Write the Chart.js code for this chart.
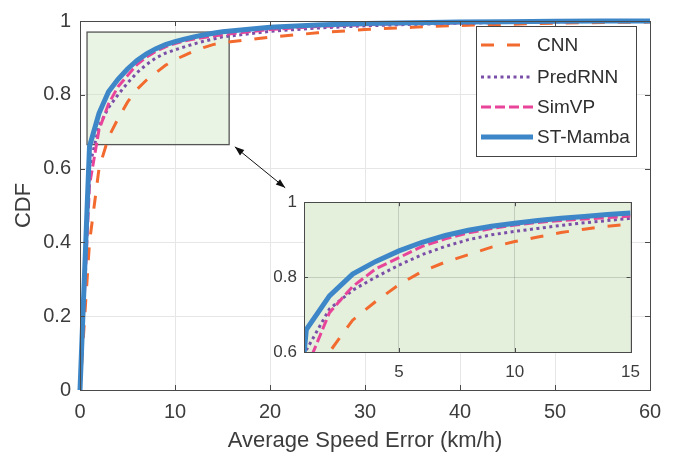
<!DOCTYPE html>
<html>
<head>
<meta charset="utf-8">
<script src="https://cdn.jsdelivr.net/npm/chart.js@4.4.0/dist/chart.umd.min.js"></script>
<style>
  html, body { margin: 0; padding: 0; background: #fff; }
  #wrap { position: relative; width: 681px; height: 457px; }
  #main { position: absolute; left: 0; top: 0; }
  #inset { position: absolute; left: 250px; top: 185px; }
</style>
</head>
<body>
<div id="wrap">
  <canvas id="main" width="681" height="457"></canvas>
  <canvas id="inset" width="400" height="210"></canvas>
</div>
<script>
// speed error (km/h) and CDF values
const speedErr = [0, 1, 2, 3, 4, 5, 6, 7, 8, 9, 10, 11, 12, 13, 14, 15, 20, 25, 30, 35, 40, 45, 50, 55, 60];
const cnn      = [0, 0.40, 0.60, 0.685, 0.735, 0.78, 0.815, 0.84, 0.86, 0.88, 0.895, 0.907, 0.919, 0.928, 0.936, 0.941, 0.956, 0.968, 0.977, 0.983, 0.988, 0.991, 0.994, 0.996, 0.997];
const predrnn  = [0, 0.605, 0.715, 0.765, 0.80, 0.832, 0.86, 0.882, 0.90, 0.913, 0.922, 0.93, 0.938, 0.945, 0.951, 0.957, 0.972, 0.981, 0.987, 0.991, 0.994, 0.996, 0.998, 0.999, 0.9995];
const simvp    = [0, 0.555, 0.705, 0.775, 0.822, 0.852, 0.882, 0.902, 0.918, 0.93, 0.939, 0.946, 0.951, 0.955, 0.959, 0.963, 0.977, 0.985, 0.99, 0.993, 0.995, 0.997, 0.998, 0.999, 1.0];
const stmamba  = [0, 0.66, 0.75, 0.808, 0.842, 0.87, 0.893, 0.911, 0.925, 0.936, 0.944, 0.951, 0.957, 0.962, 0.967, 0.971, 0.983, 0.989, 0.993, 0.995, 0.997, 0.998, 0.999, 1.0, 1.0];

const seriesNames = ['CNN', 'PredRNN', 'SimVP', 'ST-Mamba'];

const xTicks = [0, 10, 20, 30, 40, 50, 60];
const yTicks = [0, 0.2, 0.4, 0.6, 0.8, 1];
const yTickLabels = ['0', '0.2', '0.4', '0.6', '0.8', '1'];

const zoomX = [0.9, 15];
const zoomY = [0.6, 1];
const zoomXTicks = [5, 10, 15];
const zoomYTicks = [0.6, 0.8, 1];
const zoomYTickLabels = ['0.6', '0.8', '1'];

// highlighted region in main plot and arrow (data units)
const boxX = [0.74, 15.7];
const boxY = [0.665, 0.97];
const arrowFrom = [16.3, 0.659];
const arrowTo = [21.6, 0.548];

const FONT = '"Liberation Sans", Arial, Helvetica, sans-serif';
const TXT = '#3c3c3c';
const AXIS = '#4a4a4a';

const styles = [
  { color: '#F26A2E', width: 3, dash: [13, 13], order: 3 },
  { color: '#7B4FA8', width: 3, dash: [3, 3.5], order: 2 },
  { color: '#E8449A', width: 3, dash: [10, 4], order: 1 },
  { color: '#3D86C8', width: 5, dash: [], order: 0 }
];
const values = [cnn, predrnn, simvp, stmamba];

function makeDatasets(clip) {
  return values.map((arr, k) => ({
    label: seriesNames[k],
    data: speedErr.map((x, i) => ({ x: x, y: arr[i] })),
    borderColor: styles[k].color,
    borderWidth: styles[k].width,
    borderDash: styles[k].dash,
    borderCapStyle: 'butt',
    order: styles[k].order,
    pointRadius: 0,
    tension: 0,
    fill: false,
    clip: clip
  }));
}

function setTicks(list) {
  return s => { s.ticks = list.map(v => ({ value: v })); };
}

// box outline + inward tick marks like matlab axes
function drawFrame(chart, tickLen) {
  const { ctx, chartArea: a, scales } = chart;
  ctx.save();
  ctx.strokeStyle = AXIS;
  ctx.lineWidth = 1;
  ctx.beginPath();
  scales.x.ticks.forEach(t => {
    const px = Math.round(scales.x.getPixelForValue(t.value)) + 0.5;
    ctx.moveTo(px, a.bottom); ctx.lineTo(px, a.bottom - tickLen);
    ctx.moveTo(px, a.top); ctx.lineTo(px, a.top + tickLen);
  });
  scales.y.ticks.forEach(t => {
    const py = Math.round(scales.y.getPixelForValue(t.value)) + 0.5;
    ctx.moveTo(a.left, py); ctx.lineTo(a.left + tickLen, py);
    ctx.moveTo(a.right, py); ctx.lineTo(a.right - tickLen, py);
  });
  ctx.stroke();
  ctx.strokeRect(Math.round(a.left) + 0.5, Math.round(a.top) + 0.5,
    Math.round(a.right - a.left), Math.round(a.bottom - a.top));
  ctx.restore();
}

const zoomBoxPlugin = {
  id: 'zoomBox',
  beforeDatasetsDraw(chart) {
    const { ctx, scales: { x, y } } = chart;
    const x0 = x.getPixelForValue(boxX[0]), x1 = x.getPixelForValue(boxX[1]);
    const y0 = y.getPixelForValue(boxY[1]), y1 = y.getPixelForValue(boxY[0]);
    ctx.save();
    ctx.fillStyle = 'rgba(196, 224, 178, 0.35)';
    ctx.fillRect(x0, y0, x1 - x0, y1 - y0);
    ctx.strokeStyle = '#555';
    ctx.lineWidth = 1.3;
    ctx.strokeRect(x0, y0, x1 - x0, y1 - y0);
    ctx.restore();
  },
  afterDatasetsDraw(chart) {
    drawFrame(chart, 5);
  },
  afterDraw(chart) {
    const { ctx, scales: { x, y } } = chart;
    // double headed arrow
    const ax = x.getPixelForValue(arrowFrom[0]), ay = y.getPixelForValue(arrowFrom[1]);
    const bx = x.getPixelForValue(arrowTo[0]), by = y.getPixelForValue(arrowTo[1]);
    ctx.save();
    ctx.strokeStyle = '#111';
    ctx.fillStyle = '#111';
    ctx.lineWidth = 1;
    ctx.beginPath(); ctx.moveTo(ax, ay); ctx.lineTo(bx, by); ctx.stroke();
    const head = (px, py, ang) => {
      ctx.beginPath();
      ctx.moveTo(px, py);
      ctx.lineTo(px - 10 * Math.cos(ang - 0.35), py - 10 * Math.sin(ang - 0.35));
      ctx.lineTo(px - 10 * Math.cos(ang + 0.35), py - 10 * Math.sin(ang + 0.35));
      ctx.closePath();
      ctx.fill();
    };
    const ang = Math.atan2(by - ay, bx - ax);
    head(bx, by, ang);
    head(ax, ay, ang + Math.PI);
    ctx.restore();

    // legend
    const lx = 476, ly = 26, lw = 160, lh = 130;
    ctx.save();
    ctx.fillStyle = '#fff';
    ctx.fillRect(lx, ly, lw, lh);
    ctx.strokeStyle = '#444';
    ctx.lineWidth = 1;
    ctx.strokeRect(lx + 0.5, ly + 0.5, lw, lh);
    const rows = [45, 77, 107, 137];
    ctx.font = '19px ' + FONT;
    ctx.textBaseline = 'middle';
    seriesNames.forEach((name, k) => {
      ctx.strokeStyle = styles[k].color;
      ctx.lineWidth = styles[k].width;
      ctx.setLineDash(styles[k].dash);
      ctx.beginPath();
      ctx.moveTo(481, rows[k]); ctx.lineTo(533, rows[k]);
      ctx.stroke();
      ctx.setLineDash([]);
      ctx.fillStyle = '#2e2e2e';
      ctx.fillText(name, 537, rows[k] + 1);
    });
    ctx.restore();
  }
};

const insetPlugin = {
  id: 'insetBg',
  beforeDraw(chart) {
    const { ctx, chartArea: a } = chart;
    ctx.save();
    ctx.fillStyle = '#E4EFDC';
    ctx.fillRect(a.left, a.top, a.right - a.left, a.bottom - a.top);
    ctx.restore();
  },
  afterDatasetsDraw(chart) {
    drawFrame(chart, 4);
  }
};

new Chart(document.getElementById('main').getContext('2d'), {
  type: 'line',
  data: { datasets: makeDatasets(false) },
  options: {
    responsive: false,
    animation: false,
    layout: { padding: { left: 0, right: 31, top: 12, bottom: 0 } },
    plugins: { legend: { display: false }, tooltip: { enabled: false } },
    scales: {
      x: {
        type: 'linear', min: 0, max: 60,
        afterBuildTicks: setTicks(xTicks),
        afterFit: s => { s.height = 67; },
        ticks: { font: { family: FONT, size: 20 }, color: TXT, padding: 10, maxRotation: 0, autoSkip: false },
        grid: { color: '#e6e6e6', drawTicks: false },
        border: { display: false },
        title: { display: true, text: 'Average Speed Error (km/h)', font: { family: FONT, size: 22 }, color: TXT, padding: { top: 0, bottom: 3 } }
      },
      y: {
        type: 'linear', min: 0, max: 1,
        afterBuildTicks: setTicks(yTicks),
        afterFit: s => { s.width = 80; },
        ticks: { font: { family: FONT, size: 20 }, color: TXT, padding: 9, autoSkip: false,
          callback: (v, i) => yTickLabels[i] },
        grid: { color: '#e6e6e6', drawTicks: false },
        border: { display: false },
        title: { display: true, text: 'CDF', font: { family: FONT, size: 22 }, color: TXT, padding: { top: 11, bottom: 0 } }
      }
    }
  },
  plugins: [zoomBoxPlugin]
});

new Chart(document.getElementById('inset').getContext('2d'), {
  type: 'line',
  data: { datasets: makeDatasets(0) },
  options: {
    responsive: false,
    animation: false,
    layout: { padding: { left: 0, right: 16, top: 16, bottom: 0 } },
    plugins: { legend: { display: false }, tooltip: { enabled: false } },
    scales: {
      x: {
        type: 'linear', min: zoomX[0], max: zoomX[1],
        afterBuildTicks: setTicks(zoomXTicks),
        afterFit: s => { s.height = 43; },
        ticks: { font: { family: FONT, size: 17 }, color: TXT, padding: 10, maxRotation: 0, autoSkip: false },
        grid: { color: 'rgba(0,0,0,0.14)', drawTicks: false },
        border: { display: false }
      },
      y: {
        type: 'linear', min: zoomY[0], max: zoomY[1],
        afterBuildTicks: setTicks(zoomYTicks),
        afterFit: s => { s.width = 54; },
        ticks: { font: { family: FONT, size: 17 }, color: TXT, padding: 7, autoSkip: false,
          callback: (v, i) => zoomYTickLabels[i] },
        grid: { color: 'rgba(0,0,0,0.14)', drawTicks: false },
        border: { display: false }
      }
    }
  },
  plugins: [insetPlugin]
});
</script>
</body>
</html>
